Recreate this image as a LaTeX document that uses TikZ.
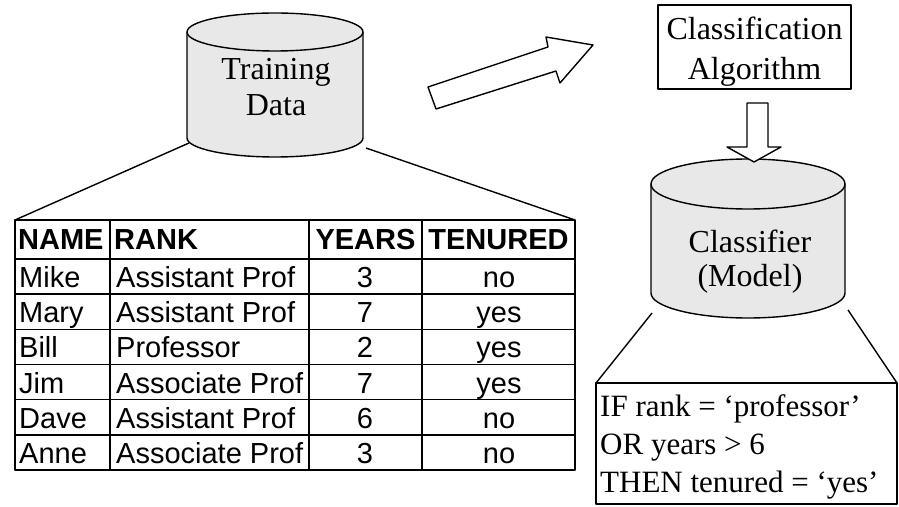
\documentclass[tikz,border=0pt]{standalone}
\usepackage{fontspec}
\setmainfont{Liberation Serif}
\newfontfamily\arialfont{Liberation Sans}
\begin{document}
\begin{tikzpicture}[x=1bp,y=-1bp,
  ln/.style={line width=1.4bp, line join=round},
  cyl/.style={ln, fill=black!9},
  serif/.style={font=\fontsize{32bp}{38bp}\selectfont, inner sep=0pt},
  rule/.style={font=\fontsize{31bp}{37bp}\selectfont, inner sep=0pt},
  tabtxt/.style={font=\arialfont\fontsize{29bp}{34bp}\selectfont, inner sep=0pt},
  tabhead/.style={font=\arialfont\bfseries\fontsize{29bp}{34bp}\selectfont, inner sep=0pt},
  block/.style={ln, fill=white}]
\useasboundingbox (0,0) rectangle (899,507);

% ---------- Training Data cylinder ----------
\fill[black!9] (187,32) -- (187,138) arc[start angle=180,end angle=0,x radius=88,y radius=19] -- (363,32) -- cycle;
\draw[ln] (187,32) -- (187,138) arc[start angle=180,end angle=0,x radius=88,y radius=19] -- (363,32);
\draw[cyl] (275,32) ellipse[x radius=88,y radius=19];
\node[serif, anchor=base] (train) at (276,80) {Training};
\node[serif, anchor=base] (data) at (276,116) {Data};
\coordinate (tdL) at (189,143);
\coordinate (tdR) at (366,148);

% ---------- training table ----------
\coordinate (tabTL) at (15,220);
\coordinate (tabTR) at (575,220);
\draw[ln] (tabTL) rectangle (575,470);
\draw[ln] (15,259) -- (575,259);
\foreach \k in {1,...,5} \draw[ln] (15,{259+35.17*\k}) -- (575,{259+35.17*\k});
\foreach \cx in {110,309,422} \draw[ln] (\cx,220) -- (\cx,470);

\node[tabhead, anchor=base west] (hname) at (18,250) {NAME};
\node[tabhead, anchor=base west] (hrank) at (114,250) {RANK};
\node[tabhead, anchor=base] (hyears) at (365.5,250) {YEARS};
\node[tabhead, anchor=base] (hten) at (498.5,250) {TENURED};

\foreach \nm/\rk/\yr/\tn [count=\i] in {Mike/Assistant Prof/3/no, Mary/Assistant Prof/7/yes, Bill/Professor/2/yes, Jim/Associate Prof/7/yes, Dave/Assistant Prof/6/no, Anne/Associate Prof/3/no}{
  \pgfmathsetmacro{\yb}{259+35.17*(\i-1)+28.5}
  \node[tabtxt, anchor=base west] (name\i) at (19,\yb) {\nm};
  \node[tabtxt, anchor=base west] (rank\i) at (116,\yb) {\rk};
  \node[tabtxt, anchor=base] (yrs\i) at (365,\yb) {\yr};
  \node[tabtxt, anchor=base] (ten\i) at (499,\yb) {\tn};
}

\draw[ln] (tdL) -- (tabTL);
\draw[ln] (tdR) -- (tabTR);

% ---------- hollow arrow towards the algorithm ----------
\draw[block] (428,87) -- (548,47) -- (546,37) -- (593,45) -- (560,83) -- (556,71) -- (436,109) -- cycle;

% ---------- Classification Algorithm box ----------
\draw[ln] (658,5) rectangle (851,89);
\node[serif, anchor=base] (alg1) at (754.5,40) {Classification};
\node[serif, anchor=base] (alg2) at (754.5,80) {Algorithm};

% ---------- Classifier cylinder ----------
\fill[black!9] (651,184) -- (651,293) arc[start angle=180,end angle=0,x radius=97,y radius=25] -- (845,184) -- cycle;
\draw[ln] (651,184) -- (651,293) arc[start angle=180,end angle=0,x radius=97,y radius=25] -- (845,184);
\draw[cyl] (748,184) ellipse[x radius=97,y radius=25];
\node[serif, anchor=base] (clf1) at (750,253) {Classifier};
\node[serif, anchor=base] (clf2) at (750,287) {(Model)};
\coordinate (cmL) at (652,313);
\coordinate (cmR) at (848,310);

% ---------- downward hollow arrow ----------
\draw[block] (747,103) -- (768,103) -- (768,147) -- (781,147) -- (754,162) -- (727,147) -- (747,147) -- cycle;

% ---------- rule box ----------
\coordinate (rbTL) at (596,383);
\coordinate (rbTR) at (897,383);
\draw[ln] (rbTL) rectangle (897,504);
\node[rule, anchor=base west] (rule1) at (600,416) {IF rank = ‘professor’};
\node[rule, anchor=base west] (rule2) at (600,454) {OR years > 6};
\node[rule, anchor=base west] (rule3) at (600,492) {THEN tenured = ‘yes’};
\draw[ln] (cmL) -- (rbTL);
\draw[ln] (cmR) -- (rbTR);
\end{tikzpicture}
\end{document}
